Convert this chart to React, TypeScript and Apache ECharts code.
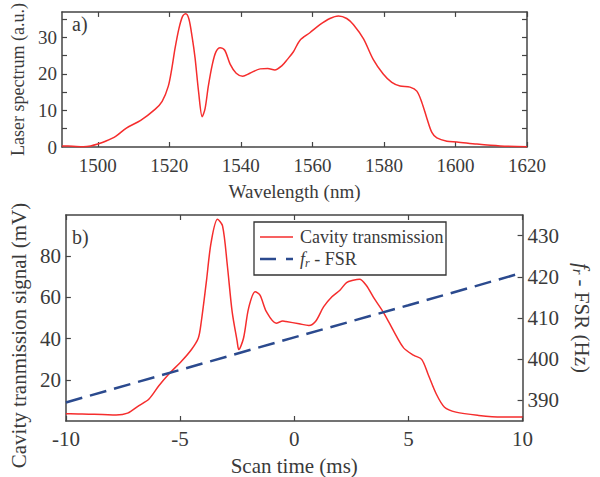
import React, { useEffect, useRef } from "react";
import * as echarts from "echarts";

// Panel a: laser spectrum
const spectrumWl = [1490, 1493, 1496, 1498, 1500, 1502, 1505, 1508, 1512, 1516, 1518, 1519.7, 1520.7, 1521.6, 1522.7, 1523.7, 1524.6, 1525.5, 1526.4, 1527.2, 1528.2, 1529.2, 1530, 1530.9, 1532, 1533, 1534.2, 1535.5, 1537, 1538.7, 1540.5, 1542.5, 1545.4, 1547.5, 1549.5, 1551.5, 1553, 1554.7, 1556.5, 1559.3, 1562.1, 1564.9, 1567.3, 1569.6, 1571.5, 1574.3, 1577, 1579.8, 1582.2, 1584.5, 1587.3, 1589.2, 1590.6, 1592, 1593.4, 1594.8, 1597.6, 1600.4, 1606, 1612.5, 1620];
const spectrumVal = [0.3, 0.2, 0.1, 0.3, 0.8, 1.5, 2.9, 5.2, 7.3, 10.3, 12.5, 16.6, 21.5, 27, 32.5, 35.8, 36.5, 35, 30, 24.4, 15, 8.3, 10.5, 16.6, 22.5, 26, 27.2, 26.5, 22.7, 20.2, 19.4, 20.2, 21.4, 21.5, 21.1, 22.3, 24, 26.1, 29.2, 31.3, 33.5, 35.2, 35.9, 35.2, 33.5, 29.6, 24, 20, 17.7, 16.7, 16.4, 15.3, 12.2, 7.9, 4, 2.5, 1.6, 1.4, 0.8, 0.3, 0.1];

// Panel b: cavity transmission
const scanTime = [-10, -9.8, -9, -8.4, -7.8, -7.3, -6.8, -6.36, -5.93, -5.5, -4.93, -4.5, -4.2, -4.07, -3.85, -3.64, -3.36, -3.14, -2.93, -2.72, -2.5, -2.43, -2.22, -2.0, -1.71, -1.5, -1.22, -0.79, -0.5, -0.36, 0.21, 0.64, 0.93, 1.29, 1.65, 2.0, 2.29, 2.58, 2.86, 3.15, 3.5, 3.93, 4.36, 4.79, 5.22, 5.58, 5.86, 6.22, 6.58, 7.08, 8.08, 9.08, 10];
const transmission = [3.5, 3.5, 3.3, 3.2, 2.9, 3.8, 7.5, 10.7, 17.1, 22.7, 29.1, 34.7, 40.3, 48.3, 67.5, 86.7, 97.9, 94.7, 75.5, 53.1, 38.7, 34.7, 40.3, 54.7, 62.7, 61.1, 53.1, 47.5, 48.5, 48.3, 47.2, 46.4, 48.3, 55.5, 60.3, 63.5, 67.2, 68.3, 68.8, 65.9, 59.5, 52.3, 43.5, 35.5, 32, 29.9, 22.7, 13.1, 6.7, 4.3, 2.7, 1.9, 1.9];

// Panel b: fr - FSR
const fsrTime = [-10, -5, 0, 5, 10];
const fsrVal = [389.5, 397.4, 405.3, 413.1, 421];

const spectrumTicks = [1500, 1520, 1540, 1560, 1580, 1600, 1620];
const spectrumYTicks = [5, 10, 15, 20, 25, 30, 35];
const spectrumYLabels = [0, 10, 20, 30];
const transYLabels = [20, 40, 60, 80];
const fsrYLabels = [390, 400, 410, 420, 430];
const legendNames = ["Cavity transmission", "{i|f}{s|r}{n| - FSR}"];

const FONT = "Liberation Serif";
const TXT = "#3a3a3a";
const AX = "#444";
const RED = "#f52d2d";
const BLUE = "#2b4a8e";

const zip = (a: number[], b: number[]) => a.map((v, i) => [v, b[i]]);

const richFor = (size: number) => ({
  i: { fontStyle: "italic", fontFamily: FONT, fontSize: size, color: TXT },
  s: { fontStyle: "italic", fontFamily: FONT, fontSize: Math.round(size * 0.66), color: TXT, padding: [Math.round(size * 0.45), 0, 0, 0] },
  n: { fontFamily: FONT, fontSize: size, color: TXT },
});

export default function App() {
  const ref = useRef<HTMLDivElement>(null);
  useEffect(() => {
    if (!ref.current) return;
    const chart = echarts.init(ref.current, undefined, { renderer: "svg" });
    const axLine = { show: true, onZero: false, lineStyle: { color: AX, width: 1.5 } };
    const tickIn = { show: true, inside: true, length: 5, lineStyle: { color: AX, width: 1.2 } };
    const lblA = { color: TXT, fontFamily: FONT, fontSize: 19, formatter: (v: number) => String(v) };
    const lblB = { color: TXT, fontFamily: FONT, fontSize: 21, formatter: (v: number) => String(v) };
    const nameA = { color: TXT, fontFamily: FONT, fontSize: 18, rich: richFor(18) };
    const nameAx = { color: TXT, fontFamily: FONT, fontSize: 19, rich: richFor(19) };
    const nameB = { color: TXT, fontFamily: FONT, fontSize: 21, rich: richFor(21) };
    const lx = 254, ly = 222, lw = 192, lh = 53;
    chart.setOption({
      animation: false,
      backgroundColor: "#fff",
      textStyle: { fontFamily: FONT },
      grid: [
        { left: 62, right: 73, top: 5, height: 142 },
        { left: 62, right: 72, top: 215, height: 209 },
      ],
      xAxis: [
        {
          type: "value", gridIndex: 0, min: 1490, max: 1620,
          axisLine: axLine, splitLine: { show: false },
          axisTick: { ...tickIn, customValues: spectrumTicks },
          axisLabel: { ...lblA, margin: 9, customValues: spectrumTicks },
          name: "Wavelength (nm)", nameLocation: "middle", nameGap: 35,
          nameTextStyle: nameAx,
        },
        {
          type: "value", gridIndex: 0, min: 1490, max: 1620, position: "top",
          axisLine: axLine, splitLine: { show: false },
          axisTick: { ...tickIn, customValues: spectrumTicks },
          axisLabel: { show: false },
        },
        {
          type: "value", gridIndex: 1, min: -10, max: 10, interval: 5,
          axisLine: axLine, splitLine: { show: false },
          axisTick: tickIn,
          axisLabel: { ...lblB, margin: 7 },
          name: "Scan time (ms)", nameLocation: "middle", nameGap: 34,
          nameTextStyle: nameB,
        },
        {
          type: "value", gridIndex: 1, min: -10, max: 10, interval: 5, position: "top",
          axisLine: axLine, splitLine: { show: false },
          axisTick: tickIn,
          axisLabel: { show: false },
        },
      ],
      yAxis: [
        {
          type: "value", gridIndex: 0, min: 0, max: 37,
          axisLine: axLine, splitLine: { show: false },
          axisTick: { ...tickIn, customValues: spectrumYTicks },
          axisLabel: { ...lblA, margin: 5, customValues: spectrumYLabels },
          name: "Laser spectrum (a.u.)", nameLocation: "middle", nameGap: 32,
          nameTextStyle: nameA,
        },
        {
          type: "value", gridIndex: 0, min: 0, max: 37, position: "right",
          axisLine: axLine, splitLine: { show: false },
          axisTick: { ...tickIn, customValues: spectrumYTicks },
          axisLabel: { show: false },
        },
        {
          type: "value", gridIndex: 1, min: 0, max: 100,
          axisLine: axLine, splitLine: { show: false },
          axisTick: { ...tickIn, customValues: transYLabels },
          axisLabel: { ...lblB, margin: 5, customValues: transYLabels },
          name: "Cavity tranmission signal (mV)", nameLocation: "middle", nameGap: 35,
          nameTextStyle: { ...nameB, padding: [0, 35, 0, 0] },
        },
        {
          type: "value", gridIndex: 1, min: 385, max: 435, position: "right",
          axisLine: axLine, splitLine: { show: false },
          axisTick: { ...tickIn, customValues: fsrYLabels },
          axisLabel: { ...lblB, margin: 5, customValues: fsrYLabels },
          name: "{i|f}{s|r}{n| - FSR (Hz)}", nameLocation: "middle", nameGap: 44, nameRotate: -90,
          nameTextStyle: nameB,
        },
      ],
      graphic: [
        { type: "text", left: 72, top: 14, style: { text: "a)", font: `20px "${FONT}"`, fill: TXT } },
        { type: "text", left: 72, top: 227, style: { text: "b)", font: `20px "${FONT}"`, fill: TXT } },
        {
          type: "rect", shape: { x: lx, y: ly, width: lw, height: lh }, z: 10,
          style: { fill: "#fff", stroke: "#333", lineWidth: 1.3 },
        },
        {
          type: "line", z: 11, shape: { x1: lx + 6, y1: ly + 15, x2: lx + 39, y2: ly + 15 },
          style: { stroke: RED, lineWidth: 1.5 },
        },
        {
          type: "line", z: 11, shape: { x1: lx + 6, y1: ly + 37, x2: lx + 39, y2: ly + 37 },
          style: { stroke: BLUE, lineWidth: 2.5, lineDash: [16, 10] },
        },
        {
          type: "text", z: 11, x: lx + 46, y: ly + 15,
          style: { text: legendNames[0], fontFamily: FONT, fontSize: 18, fill: TXT, verticalAlign: "middle" },
        },
        {
          type: "text", z: 11, x: lx + 46, y: ly + 37,
          style: { text: legendNames[1], rich: richFor(18), fontFamily: FONT, fontSize: 18, fill: TXT, verticalAlign: "middle" },
        },
      ],
      series: [
        {
          type: "line", xAxisIndex: 0, yAxisIndex: 0, data: zip(spectrumWl, spectrumVal),
          symbol: "none", smooth: 0.3, lineStyle: { color: RED, width: 1.5 }, itemStyle: { color: RED },
        },
        {
          name: "Cavity transmission",
          type: "line", xAxisIndex: 2, yAxisIndex: 2, data: zip(scanTime, transmission),
          symbol: "none", smooth: 0.3, lineStyle: { color: RED, width: 1.5 }, itemStyle: { color: RED },
        },
        {
          name: "fr - FSR",
          type: "line", xAxisIndex: 2, yAxisIndex: 3, data: zip(fsrTime, fsrVal),
          symbol: "none", lineStyle: { color: BLUE, width: 2.5, type: [17, 8] }, itemStyle: { color: BLUE },
        },
      ],
    });
    return () => chart.dispose();
  }, []);
  return <div ref={ref} style={{ position: "absolute", left: 0, top: 0, width: 600, height: 477 }} />;
}
